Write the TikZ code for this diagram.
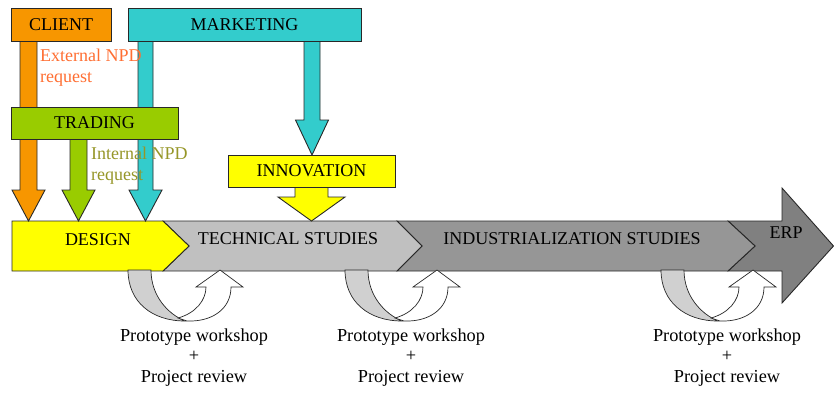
\documentclass[tikz,border=0pt]{standalone}
\usepackage{fontspec}
\setmainfont{Liberation Serif}
\definecolor{corange}{RGB}{247,150,0}
\definecolor{ccyan}{RGB}{51,204,204}
\definecolor{cgreen}{RGB}{153,204,0}
\definecolor{cyellow}{RGB}{255,255,0}
\definecolor{glight}{RGB}{192,192,192}
\definecolor{gmid}{RGB}{150,150,150}
\definecolor{gdark}{RGB}{128,128,128}
\definecolor{gloop}{RGB}{208,208,208}
\definecolor{extcol}{RGB}{255,110,50}
\definecolor{intcol}{RGB}{150,150,40}
\definecolor{edge}{RGB}{40,40,40}
\newcommand{\blkdown}[7]{% xc, top, base, tip, halfshaft, halfhead, colour
  \filldraw[shape edge, fill=#7] (#1-#5,#2) -- (#1+#5,#2) -- (#1+#5,#3) -- (#1+#6,#3)
    -- (#1,#4) -- (#1-#6,#3) -- (#1-#5,#3) -- cycle;}
\newcommand{\uturn}[1]{%
  \begin{scope}[shift={(#1-128,0)}]
    \filldraw[loop edge, fill=gloop] (128,270) .. controls (128,302) and (152,321) .. (185,321)
      .. controls (168,314) and (151,296) .. (151,270) -- cycle;
    \filldraw[loop edge, fill=white] (178,318) .. controls (196,313) and (206,300) .. (206,287)
      -- (196,287) -- (220,270) -- (243,287) -- (231,287)
      .. controls (231,309) and (212,322) .. (187,321) -- cycle;
  \end{scope}}
\begin{document}
\begin{tikzpicture}[x=1pt,y=-1pt,
  shape edge/.style={draw=edge, line width=0.9pt, line join=miter},
  loop edge/.style={draw=edge, line width=0.7pt, line join=miter},
  boxnode/.style={shape edge, rectangle, inner sep=0pt, font=\fontsize{18}{20}\selectfont},
  lbl/.style={inner sep=0pt, font=\fontsize{18}{20}\selectfont},
  note/.style={inner sep=0pt, align=left, anchor=west, font=\fontsize{18}{21}\selectfont},
  pw/.style={inner sep=0pt, align=center, font=\fontsize{18.3}{20.5}\selectfont}]
\useasboundingbox (0,0) rectangle (834,392);

% main band
\filldraw[shape edge, fill=gdark] (728,221) -- (782,221) -- (782,188) -- (833.5,246) -- (782,303)
  -- (782,271) -- (728,271) -- (755,246) -- cycle;
\filldraw[shape edge, fill=gmid] (397,221) -- (728,221) -- (755,246) -- (728,271) -- (397,271) -- (422,246) -- cycle;
\filldraw[shape edge, fill=glight] (163,221) -- (397,221) -- (422,246) -- (397,271) -- (163,271) -- (189,246) -- cycle;
\filldraw[shape edge, fill=cyellow] (12,221) -- (163,221) -- (189,246) -- (163,271) -- (12,271) -- cycle;
\node[lbl] (design) at (98,240) {DESIGN};
\node[lbl] (tech) at (288,239) {TECHNICAL STUDIES};
\node[lbl] (indus) at (572,239) {INDUSTRIALIZATION STUDIES};
\node[lbl] (erp) at (786,233) {ERP};

% down arrows
\blkdown{28.5}{41}{190}{221}{8.5}{16.5}{corange}
\blkdown{145.5}{41}{190}{221}{7.5}{16.5}{ccyan}
\blkdown{312}{41}{120}{155}{8}{16.5}{ccyan}
\blkdown{78.5}{139}{190}{221}{8.5}{16.5}{cgreen}
\blkdown{311.5}{187}{197}{221}{16.5}{33.5}{cyellow}

% boxes
\node[boxnode, fill=corange, minimum width=100pt, minimum height=33pt] (client) at (61,24.5) {CLIENT};
\node[boxnode, fill=ccyan, minimum width=233pt, minimum height=33pt] (marketing) at (244.5,24.5) {MARKETING};
\node[boxnode, fill=cgreen, minimum width=167pt, minimum height=32pt] (trading) at (94.5,123) {TRADING};
\node[boxnode, fill=cyellow, minimum width=167pt, minimum height=32pt] (innovation) at (311.5,171) {INNOVATION};

% request notes
\node[note, text=extcol] (ext) at (40,68) {External NPD\\request};
\node[note, text=intcol] (int) at (91,166) {Internal NPD\\request};

% review loops
\uturn{128}
\uturn{345}
\uturn{661}
\node[pw] (pw1) at (194,357.5) {Prototype workshop\\+\\Project review};
\node[pw] (pw2) at (411,357.5) {Prototype workshop\\+\\Project review};
\node[pw] (pw3) at (727,357.5) {Prototype workshop\\+\\Project review};
\end{tikzpicture}
\end{document}
